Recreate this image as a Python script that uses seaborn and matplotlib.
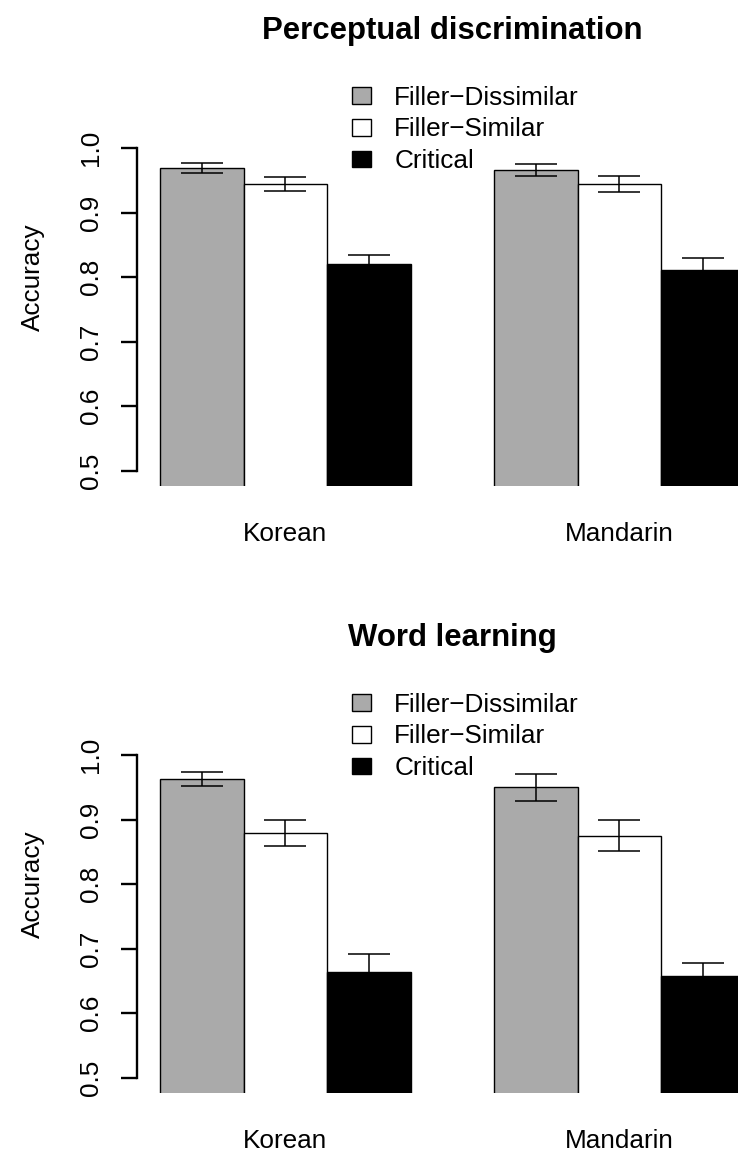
import matplotlib
matplotlib.use("Agg")
import matplotlib.pyplot as plt
from matplotlib.patches import Patch
import pandas as pd
import seaborn as sns

languages = ["Korean", "Mandarin"]
conditions = ["Filler\u2212Dissimilar", "Filler\u2212Similar", "Critical"]
bar_colors = ["#aaaaaa", "#ffffff", "#000000"]

# accuracy means and standard errors, rows = language, cols = condition
percep_mean = [[0.969, 0.944, 0.820], [0.966, 0.944, 0.811]]
percep_se = [[0.007, 0.011, 0.014], [0.009, 0.012, 0.018]]
word_mean = [[0.963, 0.879, 0.663], [0.950, 0.875, 0.657]]
word_se = [[0.011, 0.020, 0.029], [0.021, 0.024, 0.021]]

panels = [
    ("Perceptual discrimination", percep_mean, percep_se),
    ("Word learning", word_mean, word_se),
]

sns.set_style("white")
plt.rcParams["font.family"] = ["Liberation Sans", "DejaVu Sans"]
plt.rcParams["axes.unicode_minus"] = True
plt.rcParams["text.color"] = "black"
plt.rcParams["axes.labelcolor"] = "black"
plt.rcParams["xtick.color"] = "black"
plt.rcParams["ytick.color"] = "black"
fs = 18.8

fig = plt.figure(figsize=(7.38, 11.53), dpi=100)
# axes boxes in figure fractions (plot region runs past the right edge, as in the source)
boxes = [[0.1851, 0.5785, 0.8556, 0.3625], [0.1851, 0.0520, 0.8556, 0.3625]]
palette = dict(zip(conditions, bar_colors))

for box, (title, means, ses) in zip(boxes, panels):
    ax = fig.add_axes(box)
    rows = []
    for li, lang in enumerate(languages):
        for ci, cond in enumerate(conditions):
            rows.append({"language": lang, "condition": cond, "accuracy": means[li][ci]})
    df = pd.DataFrame(rows)

    sns.barplot(data=df, x="language", y="accuracy", hue="condition",
                order=languages, hue_order=conditions, palette=palette,
                saturation=1, width=0.75, gap=0, errorbar=None,
                edgecolor="black", linewidth=1.0, legend=False, ax=ax)

    bar_conts = list(ax.containers)
    for ci, cont in enumerate(bar_conts):
        for li, bar in enumerate(cont.patches):
            xc = bar.get_x() + bar.get_width() / 2
            ax.errorbar(xc, means[li][ci], yerr=ses[li][ci], fmt="none",
                        ecolor="black", elinewidth=1.1, capsize=15,
                        capthick=1.1, zorder=5)

    ax.set_ylim(0.476, 1.124)
    ax.set_xlim(-0.445, 1.445)
    ax.set_yticks([0.5, 0.6, 0.7, 0.8, 0.9, 1.0])
    ax.set_yticklabels(["0.5", "0.6", "0.7", "0.8", "0.9", "1.0"],
                       rotation=90, va="center", fontsize=fs)
    ax.tick_params(axis="y", length=11.5, width=1.7, pad=13, left=True, colors="black")
    ax.tick_params(axis="x", length=0, pad=26, labelsize=fs, colors="black")
    for s in ["top", "right", "bottom"]:
        ax.spines[s].set_visible(False)
    ax.spines["left"].set_bounds(0.5, 1.0)
    ax.spines["left"].set_linewidth(1.7)
    ax.spines["left"].set_color("black")
    ax.set_xlabel("")
    ax.set_ylabel("Accuracy", fontsize=fs, labelpad=24, color="black")
    ax.set_title(title, fontsize=22.4, fontweight="bold", pad=21, color="black")

    handles = [Patch(facecolor=c, edgecolor="black", linewidth=1.0) for c in bar_colors]
    leg = ax.legend(handles, conditions, loc="upper left", bbox_to_anchor=(0.341, 0.958),
                    frameon=False, fontsize=fs, borderpad=0, borderaxespad=0,
                    handlelength=0.72, handleheight=0.6, handletextpad=0.9,
                    labelspacing=0.3)
    for t in leg.get_texts():
        t.set_color("black")

plt.savefig("out.png", dpi=100)
